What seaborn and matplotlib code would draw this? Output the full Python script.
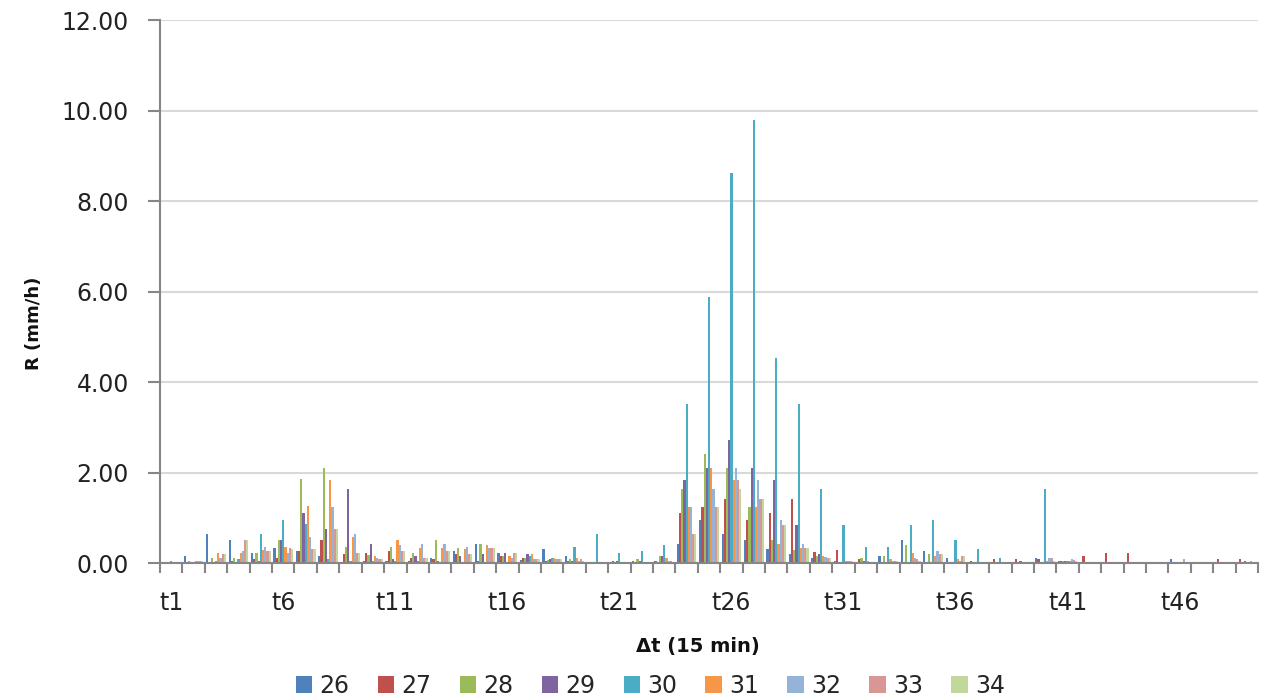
import pandas as pd
import seaborn as sns
import matplotlib.pyplot as plt
from matplotlib.ticker import FixedLocator, FormatStrFormatter

# time steps t1..t49 (15 min each)
steps = [f"t{i}" for i in range(1, 50)]
series_names = ["26", "27", "28", "29", "30", "31", "32", "33", "34"]

s26 = [0, 0.15, 0.65, 0.51, 0.23, 0.34, 0.26, 0.15, 0.02, 0.05,
       0.05, 0.05, 0.12, 0.26, 0.43, 0.23, 0.07, 0.30, 0.15, 0.03,
       0.01, 0.05, 0.05, 0.43, 0.95, 0.64, 0.51, 0.30, 0.19, 0.10,
       0.04, 0.03, 0.15, 0.51, 0.27, 0.12, 0.03, 0.02, 0.02, 0.12,
       0.04, 0.03, 0.03, 0.03, 0, 0.08, 0.03, 0.03, 0.01]
s27 = [0, 0, 0, 0.04, 0.08, 0.12, 0.26, 0.50, 0.21, 0.23,
       0.27, 0.12, 0.08, 0.19, 0.05, 0.15, 0.12, 0.05, 0.05, 0.03,
       0.05, 0.01, 0.02, 1.10, 1.24, 1.42, 0.95, 1.10, 1.42, 0.25,
       0.29, 0.09, 0.03, 0.03, 0.03, 0.03, 0.05, 0.08, 0.08, 0.08,
       0.04, 0.15, 0.23, 0.23, 0, 0.03, 0.03, 0.08, 0.08]
s28 = [0, 0.04, 0.12, 0.12, 0.23, 0.50, 1.85, 2.11, 0.36, 0.18,
       0.36, 0.23, 0.50, 0.34, 0.43, 0.15, 0.12, 0.07, 0.09, 0.03,
       0.01, 0.09, 0.15, 1.63, 2.40, 2.11, 1.24, 0.51, 0.29, 0.16,
       0.02, 0.12, 0.15, 0.40, 0.19, 0.03, 0.02, 0.03, 0.03, 0.03,
       0.04, 0.03, 0.03, 0.03, 0, 0.03, 0.03, 0.03, 0.01]
s29 = [0, 0.02, 0.03, 0.03, 0.04, 0.50, 1.10, 0.75, 1.63, 0.43,
       0.08, 0.15, 0.05, 0.15, 0.19, 0.23, 0.19, 0.09, 0.05, 0.03,
       0.05, 0.05, 0.15, 1.83, 2.11, 2.72, 2.11, 1.83, 0.85, 0.21,
       0.02, 0.05, 0.03, 0.03, 0.03, 0.03, 0.02, 0.03, 0.04, 0.03,
       0.04, 0.03, 0.03, 0.03, 0, 0.03, 0.03, 0.03, 0.05]
s30 = [0.05, 0, 0.05, 0.08, 0.65, 0.96, 0.86, 0.08, 0.05, 0.05,
       0.05, 0.05, 0.03, 0.02, 0.02, 0.02, 0.15, 0.12, 0.36, 0.65,
       0.23, 0.27, 0.40, 3.51, 5.87, 8.63, 9.79, 4.54, 3.51, 1.63,
       0.85, 0.36, 0.36, 0.85, 0.96, 0.51, 0.30, 0.12, 0.03, 1.63,
       0.05, 0.03, 0.03, 0.03, 0, 0.02, 0.03, 0.03, 0.01]
s31 = [0, 0.04, 0.23, 0.23, 0.29, 0.36, 1.25, 1.83, 0.58, 0.15,
       0.50, 0.34, 0.34, 0.30, 0.40, 0.15, 0.19, 0.12, 0.12, 0.03,
       0.01, 0.03, 0.12, 1.24, 2.11, 1.83, 1.24, 0.43, 0.34, 0.16,
       0.05, 0.05, 0.09, 0.23, 0.15, 0.09, 0.03, 0.03, 0.03, 0.05,
       0.05, 0.03, 0.03, 0.03, 0, 0.02, 0.03, 0.03, 0.01]
s32 = [0, 0.04, 0.10, 0.27, 0.36, 0.23, 0.58, 1.24, 0.64, 0.10,
       0.40, 0.43, 0.43, 0.36, 0.34, 0.12, 0.09, 0.09, 0.05, 0.03,
       0.01, 0.03, 0.05, 1.24, 1.63, 2.11, 1.83, 0.95, 0.43, 0.14,
       0.05, 0.03, 0.04, 0.12, 0.27, 0.05, 0.03, 0.03, 0.03, 0.12,
       0.08, 0.03, 0.03, 0.03, 0, 0.08, 0.03, 0.03, 0.05]
s33 = [0, 0.04, 0.19, 0.50, 0.27, 0.34, 0.30, 0.75, 0.23, 0.09,
       0.27, 0.12, 0.27, 0.19, 0.34, 0.23, 0.08, 0.09, 0.09, 0.03,
       0.01, 0.03, 0.04, 0.64, 1.24, 1.83, 1.42, 0.85, 0.34, 0.12,
       0.05, 0.03, 0.04, 0.09, 0.19, 0.15, 0.03, 0.03, 0.03, 0.12,
       0.06, 0.03, 0.03, 0.03, 0, 0.03, 0.03, 0.03, 0.01]
s34 = [0, 0.04, 0.19, 0.50, 0.27, 0.32, 0.30, 0.75, 0.23, 0.09,
       0.27, 0.12, 0.27, 0.19, 0.34, 0.23, 0.08, 0.09, 0.05, 0.03,
       0.01, 0.03, 0.03, 0.64, 1.24, 1.63, 1.42, 0.85, 0.34, 0.10,
       0.05, 0.03, 0.04, 0.05, 0.19, 0.15, 0.03, 0.03, 0.03, 0.05,
       0.04, 0.03, 0.03, 0.03, 0, 0.03, 0.03, 0.03, 0.01]

colors = ["#4F81BD", "#C0504D", "#9BBB59", "#8064A2", "#4BACC6",
          "#F79646", "#95B3D7", "#D99694", "#C3D69B"]

values = [s26, s27, s28, s29, s30, s31, s32, s33, s34]
rows = []
for name, vals in zip(series_names, values):
    for step, v in zip(steps, vals):
        rows.append({"step": step, "series": name, "R": v})
df = pd.DataFrame(rows)

sns.set_style("white")
plt.rcParams["font.family"] = ["DejaVu Sans"]

fig = plt.figure(figsize=(12.65, 7), dpi=100)
ax = fig.add_axes([0.1265, 0.1957, 0.868, 0.7757])

sns.barplot(data=df, x="step", y="R", hue="series", order=steps,
            hue_order=series_names, palette=colors, saturation=1,
            errorbar=None, width=0.88, linewidth=0, ax=ax)

ax.set_xlim(-0.5, len(steps) - 0.5)
ax.set_ylim(0, 12)
ax.set_yticks([0, 2, 4, 6, 8, 10, 12])
ax.yaxis.set_major_formatter(FormatStrFormatter("%.2f"))
ax.grid(axis="y", color="#D9D9D9", linewidth=1.5)
ax.set_axisbelow(True)

# labels every 5 steps, tick marks at every category boundary
ax.set_xticks(range(0, len(steps), 5))
ax.set_xticklabels(steps[::5])
ax.xaxis.set_minor_locator(FixedLocator([i - 0.5 for i in range(len(steps) + 1)]))
ax.tick_params(axis="x", which="major", length=0, pad=20, labelsize=17, labelcolor="#222222")
ax.tick_params(axis="x", which="minor", length=7.5, width=1.5, color="#868686", bottom=True)
ax.tick_params(axis="y", length=8.5, width=1.5, color="#868686", pad=14, labelsize=17,
               labelcolor="#222222", left=True)

sns.despine(ax=ax, top=True, right=True)
for side in ["left", "bottom"]:
    ax.spines[side].set_color("#868686")
    ax.spines[side].set_linewidth(1.5)

ax.set_ylabel("R (mm/h)", fontsize=13, fontweight="bold", color="#111111")
ax.yaxis.set_label_coords(-0.107, 0.442)
ax.set_xlabel("\u0394t (15 min)", fontsize=14, fontweight="bold", color="#111111")
ax.xaxis.set_label_coords(0.49, -0.136)

handles, labels = ax.get_legend_handles_labels()
ax.get_legend().remove()
fig.legend(handles, labels, loc="center", bbox_to_anchor=(0.514, 0.02), ncol=9,
           frameon=False, fontsize=17, handlelength=0.7, handleheight=0.7,
           handletextpad=0.3, columnspacing=1.2, borderpad=0.1)

fig.savefig("out.png", dpi=100)
